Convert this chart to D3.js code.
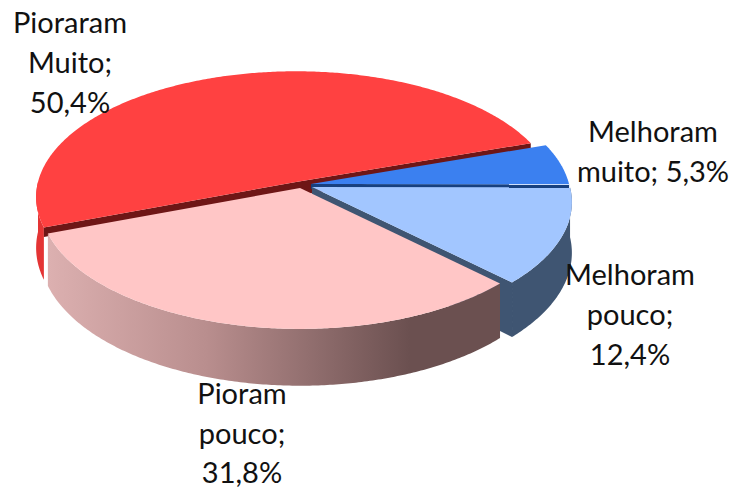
<!DOCTYPE html>
<html>
<head>
<meta charset="utf-8">
<script src="https://cdn.jsdelivr.net/npm/d3@7"></script>
<style>
  html, body { margin: 0; padding: 0; background: #fff; }
  svg { display: block; }
</style>
</head>
<body>
<div id="chart"></div>
<script>
const categories = ["Melhoram muito", "Melhoram pouco", "Pioram pouco", "Pioraram Muito"]
const values = [5.3, 12.4, 31.8, 50.4]

const width = 736, height = 488
const rx = 258, ry = 124
const perspective = 0.12
const depth = 50
const startAngle = 71 * Math.PI / 180

// per slice look, same order as categories. cuts = [which edge, how deep the cut face shows]
const sliceStyle = [
  { cx: 311, cy: 184, top: "#3b80f0", wall: "#17407f", cut: "#17407f", cuts: [["endAngle", 5]], lines: [1, 2], lx: 653, ly: 142, lh: 40 },
  { cx: 312, cy: 187, top: "#a2c6ff", wall: "#3f5572", cut: "#3f5572", cuts: [["endAngle", 50]], lines: [1, 1, 1], lx: 630, ly: 285, lh: 40 },
  { cx: 300, cy: 188, top: "#ffc6c6", wall: "url(#pinkWall)", cut: "#6b5050", cuts: [], lines: [1, 1, 1], lx: 242, ly: 404, lh: 39.5 },
  { cx: 296, cy: 182, top: "#ff4141", wall: "#e43434", cut: "#6e1616", cuts: [["startAngle", 9], ["endAngle", 14]], lines: [1, 1, 1], lx: 70, ly: 33, lh: 40 }
]

const svg = d3.select("#chart").append("svg")
  .attr("width", width)
  .attr("height", height)
  .attr("viewBox", `0 0 ${width} ${height}`)

const gradient = svg.append("defs").append("linearGradient")
  .attr("id", "pinkWall")
  .attr("gradientUnits", "userSpaceOnUse")
  .attr("x1", 48).attr("x2", 500).attr("y1", 0).attr("y2", 0)
gradient.append("stop").attr("offset", "0%").attr("stop-color", "#dcb0b0")
gradient.append("stop").attr("offset", "35%").attr("stop-color", "#b98e8e")
gradient.append("stop").attr("offset", "80%").attr("stop-color", "#6b5050")
gradient.append("stop").attr("offset", "100%").attr("stop-color", "#6b5050")

const pie = d3.pie()
  .sort(null)
  .startAngle(startAngle)
  .endAngle(startAngle + 2 * Math.PI)

const slices = pie(values).map((d, i) => ({ ...d, style: sliceStyle[i], name: categories[i] }))

// ellipse with a little perspective, the front is bigger than the back
const project = (s, t, drop) => {
  const p = 1 / (1 + perspective * Math.cos(t))
  return [
    s.style.cx + rx * Math.sin(t) * p,
    s.style.cy - ry * Math.cos(t) * p + drop * p
  ]
}
const line = d3.line()

const arcAngles = (a, b) => {
  const n = Math.ceil((b - a) / 0.01)
  return d3.range(n + 1).map(i => a + (b - a) * i / n)
}

const topPath = s => {
  const centre = [s.style.cx, s.style.cy]
  return line([centre, ...arcAngles(s.startAngle, s.endAngle).map(t => project(s, t, 0))]) + "Z"
}

// outer wall, only the front half of the circle shows
const wallPath = s => {
  const two = 2 * Math.PI
  const ranges = []
  ;[0, two].forEach(k => {
    const a = Math.max(s.startAngle, Math.PI / 2 + k)
    const b = Math.min(s.endAngle, 3 * Math.PI / 2 + k)
    if (b > a) ranges.push([a, b])
  })
  return ranges.map(([a, b]) => {
    const ts = arcAngles(a, b)
    return line([...ts.map(t => project(s, t, 0)), ...ts.slice().reverse().map(t => project(s, t, depth))]) + "Z"
  }).join("")
}

// cut face along one straight edge of the slice
const cutPath = (s, t, drop) => {
  const p = project(s, t, 0)
  const q = project(s, t, drop)
  return line([[s.style.cx, s.style.cy], p, q, [s.style.cx, s.style.cy + drop]]) + "Z"
}

const pieGroup = svg.append("g")
const order = [3, 0, 1, 2]

order.forEach(i => {
  const s = slices[i]
  pieGroup.append("path").attr("d", wallPath(s)).attr("fill", s.style.wall)
  s.style.cuts.forEach(([end, drop]) => {
    pieGroup.append("path").attr("d", cutPath(s, s[end], drop)).attr("fill", s.style.cut)
  })
})
order.forEach(i => {
  const s = slices[i]
  pieGroup.append("path").attr("d", topPath(s)).attr("fill", s.style.top)
})

const pct = d3.format(".1f")
const labels = svg.append("g")
  .attr("font-family", "Lato, 'Open Sans', sans-serif")
  .attr("font-size", 29)
  .attr("fill", "#111")
  .attr("text-anchor", "middle")

slices.forEach(s => {
  const words = `${s.name}; ${pct(s.value).replace(".", ",")}%`.split(" ")
  let at = 0
  s.style.lines.forEach((count, row) => {
    labels.append("text")
      .attr("x", s.style.lx)
      .attr("y", s.style.ly + row * s.style.lh)
      .text(words.slice(at, at + count).join(" "))
    at += count
  })
})
</script>
</body>
</html>
